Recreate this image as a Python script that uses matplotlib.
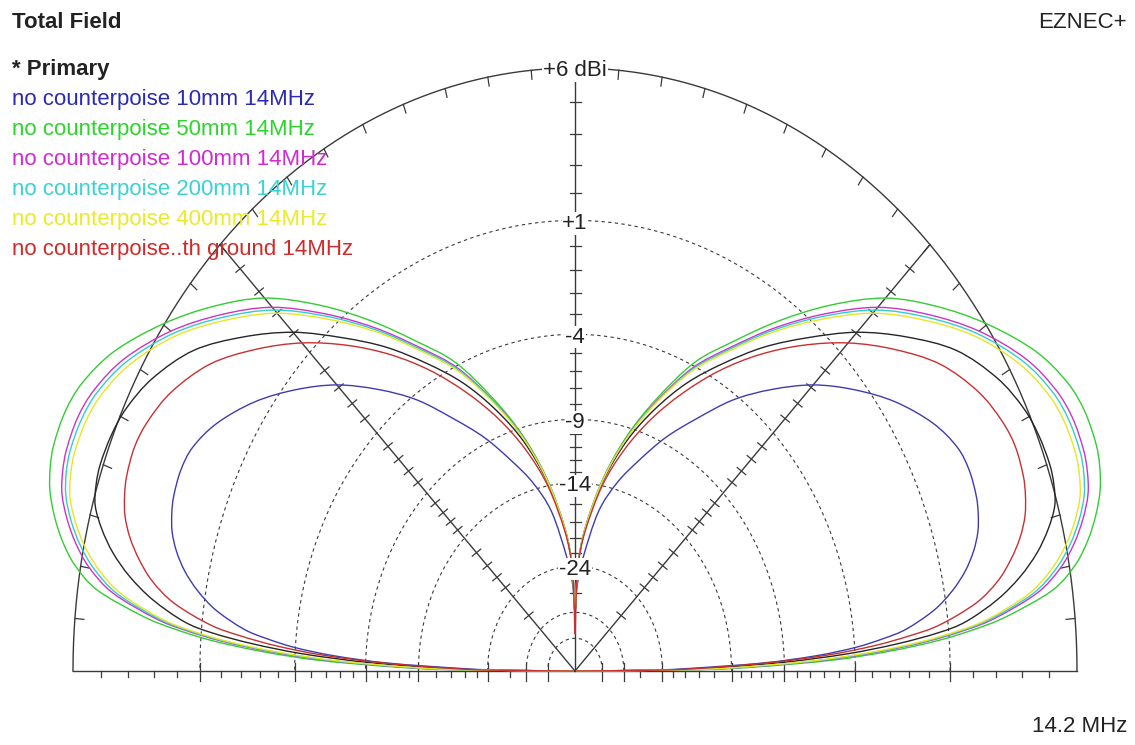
import numpy as np
import matplotlib
matplotlib.use('Agg')
import matplotlib.pyplot as plt
from matplotlib.path import Path
from matplotlib.patches import PathPatch

plt.rcParams['font.family'] = ['Liberation Sans', 'DejaVu Sans']

# elevation angle (deg) and total field gain (dBi), right half
elev = [0, 0.5, 1, 2, 3, 4, 5, 6, 8, 10, 12, 14, 16, 18, 20, 23, 26, 30, 35,
        40, 45, 50, 55, 60, 65, 70, 75, 80, 85, 88, 89, 90]

gain_primary = [-99, -23, -16, -9, -4.5, -1.6, 0.5, 1.8, 3.2, 4.2, 4.95, 5.5, 5.9, 6.05, 6.1, 6.05,
                5.9, 5.5, 4.7, 3.45, 2.05, 0.4, -1.25, -3.1, -5.0, -7.3, -10.0, -13.6, -18.7, -23.6, -29, -34]
gain_10mm = [-99, -27, -20, -11, -6.6, -3.95, -2.3, -1.05, 0.4, 1.35, 2.05, 2.55, 2.9, 3.1, 3.22, 3.27,
             3.15, 2.65, 1.7, 0.5, -0.85, -2.5, -4.3, -6.5, -8.6, -11.0, -13.4, -16.6, -22.5, -27, -31, -34]
gain_50mm = [-99, -19, -12, -5.5, -2.0, 0.5, 2.2, 3.5, 5.3, 6.2, 6.75, 7.15, 7.45, 7.62, 7.7, 7.68,
             7.5, 7.0, 6.05, 4.95, 3.7, 2.0, 0.1, -1.9, -3.8, -6.5, -9.5, -13.3, -18.5, -23.5, -29, -34]
gain_100mm = [-99, -20, -13.0, -6.4, -2.65, -0.05, 1.76, 3.06, 4.75, 5.68, 6.28, 6.72, 7.05, 7.21, 7.28, 7.26,
              7.08, 6.61, 5.70, 4.56, 3.27, 1.58, -0.25, -2.21, -4.11, -6.71, -9.63, -13.38, -18.55, -23.53, -29, -34]
gain_200mm = [-99, -20.5, -13.4, -6.7, -2.85, -0.21, 1.62, 2.92, 4.59, 5.52, 6.14, 6.59, 6.92, 7.09, 7.16, 7.13,
              6.96, 6.49, 5.59, 4.44, 3.14, 1.46, -0.36, -2.31, -4.21, -6.77, -9.67, -13.40, -18.57, -23.53, -29, -34]
gain_400mm = [-99, -21, -13.7, -7.0, -3.08, -0.4, 1.47, 2.77, 4.4, 5.34, 5.98, 6.44, 6.78, 6.94, 7.01, 6.98,
              6.81, 6.35, 5.47, 4.30, 2.99, 1.31, -0.48, -2.42, -4.32, -6.84, -9.72, -13.43, -18.59, -23.54, -29, -34]
gain_earth = [-99, -25, -18, -10.5, -5.8, -2.9, -0.9, 0.6, 2.3, 3.3, 3.95, 4.45, 4.8, 5.0, 5.12, 5.17,
              5.05, 4.7, 3.95, 2.8, 1.5, 0.0, -1.65, -3.5, -5.6, -7.9, -10.6, -14.0, -19.0, -23.8, -30, -42]

legend_labels = ['no counterpoise 10mm 14MHz', 'no counterpoise 50mm 14MHz',
                 'no counterpoise 100mm 14MHz', 'no counterpoise 200mm 14MHz',
                 'no counterpoise 400mm 14MHz', 'no counterpoise..th ground 14MHz']

ring_db = [0, -5, -10, -15, -20, -30, -40, -50]       # relative to outer ring
ring_labels = ['+6 dBi', '+1', '-4', '-9', '-14', '-24']
tick_db = [d for d in range(-1, -20, -1) if d % 5] + [-22, -24, -26, -28, -35]
OUTER_DBI = 6.0

# pixel frame of the plot (the original is squashed sideways)
CX, CY, RX, RY = 575.0, 671.0, 502.0, 603.0


def radius(rel_db):
    # ARRL log scale: 0.89 per 2 dB
    return 0.89 ** (-np.asarray(rel_db, dtype=float) / 2.0)


def to_px(ang_deg, r):
    a = np.radians(ang_deg)
    return CX + RX * r * np.cos(a), CY - RY * r * np.sin(a)


def smooth_path(x, y):
    # Catmull-Rom through the read points, as cubic bezier segments
    p = np.column_stack([x, y])
    q = np.vstack([p[:1], p, p[-1:]])
    verts = [p[0]]
    codes = [Path.MOVETO]
    for i in range(1, len(q) - 2):
        c1 = q[i] + (q[i + 1] - q[i - 1]) / 6.0
        c2 = q[i + 1] - (q[i + 2] - q[i]) / 6.0
        verts += [c1, c2, q[i + 1]]
        codes += [Path.CURVE4] * 3
    return Path(verts, codes)


fig = plt.figure(figsize=(11.35, 7.45), dpi=100)
ax = fig.add_axes([0, 0, 1, 1])
ax.set_xlim(0, 1135)
ax.set_ylim(745, 0)
ax.axis('off')

grid_c = '#3a3a3a'
th = np.linspace(0, 180, 721)

# outer ring and dotted rings
ox, oy = to_px(th, 1.0)
ax.plot(ox, oy, color=grid_c, lw=1.0, zorder=2)
for d in ring_db[1:]:
    x, y = to_px(th, radius(d))
    ax.plot(x, y, color=grid_c, lw=0.8, ls=(0, (3, 3)), zorder=2)

# baseline, vertical axis, 45 degree lines
ax.plot([CX - RX, CX + RX], [CY, CY], color=grid_c, lw=1.0, zorder=2)
for a in (45, 90, 135):
    x, y = to_px(a, np.array([0.0, 1.0]))
    ax.plot(x, y, color=grid_c, lw=1.0, zorder=2)

# ticks on the radial lines
for a in (0, 45, 90, 135, 180):
    ux, uy = np.cos(np.radians(a)) * RX, -np.sin(np.radians(a)) * RY
    n = np.hypot(ux, uy)
    px_, py_ = -uy / n, ux / n
    for d in tick_db:
        x0, y0 = to_px(a, radius(d))
        if a in (0, 180):
            ax.plot([x0, x0], [y0, y0 + 6], color=grid_c, lw=0.9, zorder=2)
        else:
            L = 5.5
            ax.plot([x0 - px_ * L, x0 + px_ * L], [y0 - py_ * L, y0 + py_ * L],
                    color=grid_c, lw=0.9, zorder=2)
    if a in (0, 180):
        for d in ring_db[1:]:
            x0, y0 = to_px(a, radius(d))
            ax.plot([x0, x0], [y0 - 8, y0 + 10], color=grid_c, lw=0.9, zorder=2)

# ticks on the outer ring every 5 degrees
for a in range(5, 180, 5):
    x0, y0 = to_px(a, 1.0)
    vx, vy = CX - x0, CY - y0
    n = np.hypot(vx, vy)
    ax.plot([x0, x0 + vx / n * 9], [y0, y0 + vy / n * 9], color=grid_c, lw=0.9, zorder=2)

# pattern traces, mirrored to the left half
traces = [
    (gain_primary, '#262626'),
    (gain_10mm, '#3c3cb0'),
    (gain_50mm, '#33cc33'),
    (gain_100mm, '#cc33cc'),
    (gain_200mm, '#33cccc'),
    (gain_400mm, '#e6e622'),
    (gain_earth, '#c83030'),
]
el = np.array(elev, dtype=float)
for g, c in traces:
    g = np.array(g, dtype=float)
    ang = np.concatenate([el, 180 - el[::-1][1:]])
    gg = np.concatenate([g, g[::-1][1:]])
    x, y = to_px(ang, radius(gg - OUTER_DBI))
    ax.add_patch(PathPatch(smooth_path(x, y), fill=False, edgecolor=c, lw=1.0, zorder=3))

# ring labels on the vertical axis
for d, lab in zip(ring_db, ring_labels):
    x0, y0 = to_px(90, radius(d))
    ax.text(x0, y0 + 3, lab, fontsize=16, ha='center', va='center', color='#222222', zorder=5,
            bbox=dict(facecolor='white', edgecolor='none', pad=0.5))

# header, legend and footer
ax.text(12, 22, 'Total Field', fontsize=16, fontweight='bold', ha='left', va='center', color='#222222')
ax.text(1127, 22, 'EZNEC+', fontsize=16, ha='right', va='center', color='#222222')
ax.text(1127, 726, '14.2 MHz', fontsize=16, ha='right', va='center', color='#222222')
ax.text(12, 70, '* Primary', fontsize=16, fontweight='bold', ha='left', va='center', color='#222222')
legend_colors = ['#2a2ab4', '#2ad62a', '#d22ad2', '#3ad2d2', '#eaea2a', '#d22a2a']
for i, (lab, c) in enumerate(zip(legend_labels, legend_colors)):
    ax.text(12, 99 + 30 * i, lab, fontsize=16, ha='left', va='center', color=c, zorder=6)

fig.savefig('out.png', dpi=100)
